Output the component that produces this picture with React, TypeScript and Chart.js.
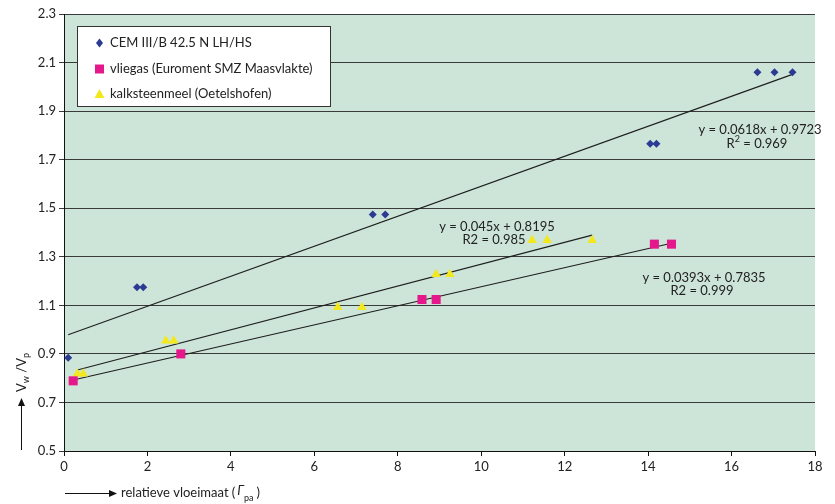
import React, { useEffect, useRef } from 'react';
import { Chart, registerables } from 'chart.js';

Chart.register(...registerables);

// ---- Data ----
const cemX = [0.1, 1.75, 1.9, 7.4, 7.7, 14.05, 14.2, 16.62, 17.03, 17.46];
const cemY = [0.884, 1.175, 1.175, 1.474, 1.474, 1.766, 1.766, 2.06, 2.06, 2.06];
const vliegasX = [0.22, 2.8, 8.58, 8.92, 14.15, 14.56];
const vliegasY = [0.789, 0.9, 1.124, 1.124, 1.352, 1.352];
const kalkX = [0.32, 0.46, 2.44, 2.63, 6.56, 7.14, 8.92, 9.25, 11.22, 11.58, 12.66];
const kalkY = [0.818, 0.818, 0.954, 0.954, 1.092, 1.092, 1.228, 1.228, 1.368, 1.368, 1.368];

const seriesNames = [
  'CEM III/B 42.5 N LH/HS',
  'vliegas (Euroment SMZ Maasvlakte)',
  'kalksteenmeel (Oetelshofen)',
];
// trendline coefficients as printed on the chart
const trendSlopes = [0.0618, 0.0393, 0.045];
const trendIntercepts = [0.9723, 0.7835, 0.8195];
const equationLines = [
  ['y = 0.0618x + 0.9723', 'R2 = 0.969'],
  ['y = 0.0393x + 0.7835', 'R2 = 0.999'],
  ['y = 0.045x + 0.8195', 'R2 = 0.985'],
];
const xTicks = { min: 0, max: 18, step: 2 };
const yTicks = { min: 0.5, max: 2.3, step: 0.2 };
const xTitle = 'relatieve vloeimaat (';
const yTitle = ['V', 'w', ' /V', 'p'];

const COLORS = ['#2b3a93', '#e5188b', '#f2e81c'];
const BG = '#cde5d8';
const FONT = 'Lato, "Open Sans", sans-serif';

const pts = (xs: number[], ys: number[]) => xs.map((x, i) => ({ x, y: ys[i] }));
const trend = (xs: number[], k: number) => {
  const lo = Math.min(...xs);
  const hi = Math.max(...xs);
  return [
    { x: lo, y: trendSlopes[k] * lo + trendIntercepts[k] },
    { x: hi, y: trendSlopes[k] * hi + trendIntercepts[k] },
  ];
};

function drawMarker(ctx: CanvasRenderingContext2D, kind: number, x: number, y: number) {
  ctx.save();
  ctx.fillStyle = COLORS[kind];
  ctx.beginPath();
  if (kind === 0) {
    ctx.moveTo(x, y - 4.5);
    ctx.lineTo(x + 3.5, y);
    ctx.lineTo(x, y + 4.5);
    ctx.lineTo(x - 3.5, y);
  } else if (kind === 1) {
    ctx.rect(x - 4.5, y - 4.5, 9, 9);
  } else {
    ctx.moveTo(x, y - 5);
    ctx.lineTo(x + 5, y + 4);
    ctx.lineTo(x - 5, y + 4);
  }
  ctx.closePath();
  ctx.fill();
  ctx.restore();
}

const customPlugin = {
  id: 'customDraw',
  beforeDraw(chart: any) {
    const { ctx, chartArea: a } = chart;
    ctx.save();
    ctx.fillStyle = BG;
    ctx.fillRect(a.left, a.top, a.right - a.left, a.bottom - a.top);
    ctx.restore();
  },
  afterDraw(chart: any) {
    const ctx: CanvasRenderingContext2D = chart.ctx;
    ctx.save();
    ctx.fillStyle = '#222';
    ctx.font = `13px ${FONT}`;
    ctx.textAlign = 'center';
    ctx.textBaseline = 'middle';

    // Equations
    const eqPos = [
      [760, 130, 757, 144],
      [704, 278, 702, 291],
      [497, 227, 494, 240],
    ];
    equationLines.forEach((lines, i) => {
      const [x1, y1, x2, y2] = eqPos[i];
      ctx.fillText(lines[0], x1, y1);
      if (i === 0) {
        // R² with superscript
        const base = 'R';
        const rest = ' = 0.969'.replace('0.969', lines[1].split('= ')[1]);
        ctx.font = `13px ${FONT}`;
        const wB = ctx.measureText(base).width;
        ctx.font = `9px ${FONT}`;
        const wS = ctx.measureText('2').width;
        ctx.font = `13px ${FONT}`;
        const wR = ctx.measureText(rest).width;
        let sx = x2 - (wB + wS + wR) / 2;
        ctx.textAlign = 'left';
        ctx.fillText(base, sx, y2);
        sx += wB;
        ctx.font = `9px ${FONT}`;
        ctx.fillText('2', sx, y2 - 5);
        sx += wS;
        ctx.font = `13px ${FONT}`;
        ctx.fillText(rest, sx, y2);
        ctx.textAlign = 'center';
      } else {
        ctx.fillText(lines[1], x2, y2);
      }
    });

    // Legend box
    ctx.fillStyle = '#ffffff';
    ctx.fillRect(77, 26, 253, 80);
    ctx.strokeStyle = '#333';
    ctx.lineWidth = 1;
    ctx.strokeRect(77.5, 26.5, 253, 80);
    const ly = [43, 69, 94];
    seriesNames.forEach((name, i) => {
      drawMarker(ctx, i, 99.5, ly[i]);
      ctx.fillStyle = '#222';
      ctx.textAlign = 'left';
      ctx.font = `13px ${FONT}`;
      ctx.fillText(name, 110, ly[i]);
    });

    // Y axis title with arrow
    ctx.strokeStyle = '#111';
    ctx.fillStyle = '#111';
    ctx.lineWidth = 1;
    ctx.beginPath();
    ctx.moveTo(21.5, 450);
    ctx.lineTo(21.5, 404);
    ctx.stroke();
    ctx.beginPath();
    ctx.moveTo(21.5, 398);
    ctx.lineTo(25, 406);
    ctx.lineTo(18, 406);
    ctx.closePath();
    ctx.fill();

    ctx.save();
    ctx.translate(22, 392);
    ctx.rotate(-Math.PI / 2);
    ctx.textAlign = 'left';
    ctx.fillStyle = '#222';
    let tx = 0;
    yTitle.forEach((part, i) => {
      const sub = i % 2 === 1;
      ctx.font = sub ? `9px ${FONT}` : `13px ${FONT}`;
      ctx.fillText(part, tx, sub ? 4 : 0);
      tx += ctx.measureText(part).width;
    });
    ctx.restore();

    // X axis title with arrow
    ctx.strokeStyle = '#111';
    ctx.fillStyle = '#111';
    ctx.beginPath();
    ctx.moveTo(65, 493.5);
    ctx.lineTo(111, 493.5);
    ctx.stroke();
    ctx.beginPath();
    ctx.moveTo(117, 493.5);
    ctx.lineTo(109, 490);
    ctx.lineTo(109, 497);
    ctx.closePath();
    ctx.fill();

    ctx.fillStyle = '#222';
    ctx.textAlign = 'left';
    ctx.font = `13px ${FONT}`;
    let xx = 121;
    ctx.fillText(xTitle, xx, 493);
    xx += ctx.measureText(xTitle).width + 2;
    ctx.font = `italic 13px ${FONT}`;
    ctx.fillText('\u0393', xx, 491);
    xx += ctx.measureText('\u0393').width;
    ctx.font = `9px ${FONT}`;
    ctx.fillText('pa', xx, 498);
    xx += ctx.measureText('pa').width + 3;
    ctx.font = `13px ${FONT}`;
    ctx.fillText(')', xx, 493);

    ctx.restore();
  },
};

export default function App() {
  const ref = useRef<HTMLCanvasElement | null>(null);

  useEffect(() => {
    if (!ref.current) return;
    const lineStyle = {
      showLine: true,
      borderColor: '#1e1e1e',
      borderWidth: 1.1,
      pointRadius: 0,
      pointHoverRadius: 0,
      fill: false,
    };
    const chart = new Chart(ref.current, {
      type: 'scatter',
      data: {
        datasets: [
          { label: seriesNames[0], data: pts(cemX, cemY), pointStyle: 'rectRot', radius: 4, backgroundColor: COLORS[0], borderColor: COLORS[0], borderWidth: 0 },
          { label: seriesNames[1], data: pts(vliegasX, vliegasY), pointStyle: 'rect', radius: 6.4, backgroundColor: COLORS[1], borderColor: COLORS[1], borderWidth: 0 },
          { label: seriesNames[2], data: pts(kalkX, kalkY), pointStyle: 'triangle', radius: 5.5, backgroundColor: COLORS[2], borderColor: COLORS[2], borderWidth: 0 },
          { label: 't0', data: trend(cemX, 0), ...lineStyle },
          { label: 't1', data: trend(vliegasX, 1), ...lineStyle },
          { label: 't2', data: trend(kalkX, 2), ...lineStyle },
        ] as any,
      },
      options: {
        responsive: false,
        animation: false,
        events: [],
        layout: { padding: { top: 14, right: 20, left: 0, bottom: 0 } },
        plugins: { legend: { display: false }, tooltip: { enabled: false } },
        scales: {
          x: {
            type: 'linear',
            min: xTicks.min,
            max: xTicks.max,
            ticks: { stepSize: xTicks.step, color: '#222', font: { family: FONT, size: 13 }, padding: 3 },
            grid: { drawOnChartArea: false, drawTicks: true, tickLength: 5, color: '#111' },
            border: { color: '#111', width: 1 },
            afterFit: (s: any) => { s.height = 53; },
          },
          y: {
            type: 'linear',
            min: yTicks.min,
            max: yTicks.max,
            ticks: {
              stepSize: yTicks.step,
              color: '#222',
              font: { family: FONT, size: 13 },
              padding: 3,
              callback: (v: any) => Number(v).toFixed(1),
            },
            grid: { color: '#3a3a3a', lineWidth: 1, tickLength: 5 },
            border: { color: '#111', width: 1 },
            afterFit: (s: any) => { s.width = 64; },
          },
        },
      } as any,
      plugins: [customPlugin],
    });
    return () => chart.destroy();
  }, []);

  return (
    <div style={{ position: 'absolute', left: 0, top: 0, width: 835, height: 504, background: '#fff' }}>
      <canvas ref={ref} width={835} height={504} />
    </div>
  );
}
